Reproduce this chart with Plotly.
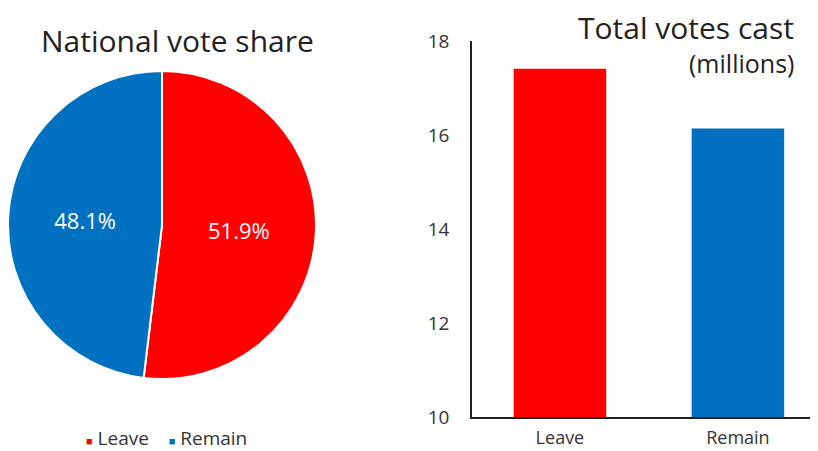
import plotly.graph_objects as go

categories = ["Leave", "Remain"]
vote_share = [51.9, 48.1]
votes_millions = [17.41, 16.14]
colors = ["#ff0000", "#0070c0"]
y_ticks = [10, 12, 14, 16, 18]

# page body offset of 8px -> figure sized to fill the remaining window
OFF = 8
W, H = 818 - OFF, 451 - OFF
FONT = "Open Sans"

def px_x(x):
    return min(max((x - OFF) / W, 0), 1)

def px_y(y):
    return min(max(1 - (y - OFF) / H, 0), 1)

fig = go.Figure()

fig.add_trace(go.Pie(
    labels=categories,
    values=vote_share,
    sort=False,
    direction="clockwise",
    rotation=0,
    marker=dict(colors=colors, line=dict(color="white", width=2)),
    texttemplate="%{value:.1f}%",
    textinfo="text",
    textposition="inside",
    insidetextfont=dict(color="white", size=22, family=FONT),
    domain=dict(x=[px_x(8), px_x(316)], y=[px_y(379), px_y(71)]),
    showlegend=False,
    hoverinfo="label+percent",
))

fig.add_trace(go.Bar(
    x=categories,
    y=votes_millions,
    marker=dict(color=colors, line=dict(width=0)),
    width=0.52,
    showlegend=False,
    xaxis="x",
    yaxis="y",
))

legend_text = (
    f'<span style="color:{colors[0]};font-size:11px">■</span> {categories[0]}'
    f'&nbsp;&nbsp;&nbsp;&nbsp;<span style="color:{colors[1]};font-size:11px">■</span> {categories[1]}'
)

fig.update_layout(
    width=W, height=H,
    margin=dict(l=0, r=0, t=0, b=0, autoexpand=False),
    paper_bgcolor="white",
    plot_bgcolor="white",
    font=dict(family=FONT, color="#333333"),
    showlegend=False,
    xaxis=dict(
        domain=[px_x(472), 1],
        range=[-0.494, 1.450],
        showline=True, linecolor="#222", linewidth=1.5,
        ticks="", showgrid=False, zeroline=False,
        tickfont=dict(size=18, color="#333333"),
        ticklabelstandoff=4,
        anchor="y",
    ),
    yaxis=dict(
        domain=[px_y(417), px_y(41)],
        range=[10, 18],
        tickvals=y_ticks,
        showline=True, linecolor="#222", linewidth=1.5,
        ticks="", showgrid=False, zeroline=False,
        tickfont=dict(size=19, color="#333333"),
        ticklabelstandoff=17,
        anchor="x",
    ),
    annotations=[
        dict(text="National vote share", x=px_x(177), y=px_y(40),
             xref="paper", yref="paper", xanchor="center", yanchor="middle",
             showarrow=False, font=dict(size=30, color="#222222")),
        dict(text="Total votes cast", x=px_x(796), y=px_y(27),
             xref="paper", yref="paper", xanchor="right", yanchor="middle",
             showarrow=False, font=dict(size=30, color="#222222")),
        dict(text="(millions)", x=px_x(796), y=px_y(63),
             xref="paper", yref="paper", xanchor="right", yanchor="middle",
             showarrow=False, font=dict(size=25, color="#222222")),
        dict(text=legend_text, x=px_x(166), y=px_y(438),
             xref="paper", yref="paper", xanchor="center", yanchor="middle",
             showarrow=False, font=dict(size=19, color="#333333")),
    ],
)

fig.write_html("out.html")
